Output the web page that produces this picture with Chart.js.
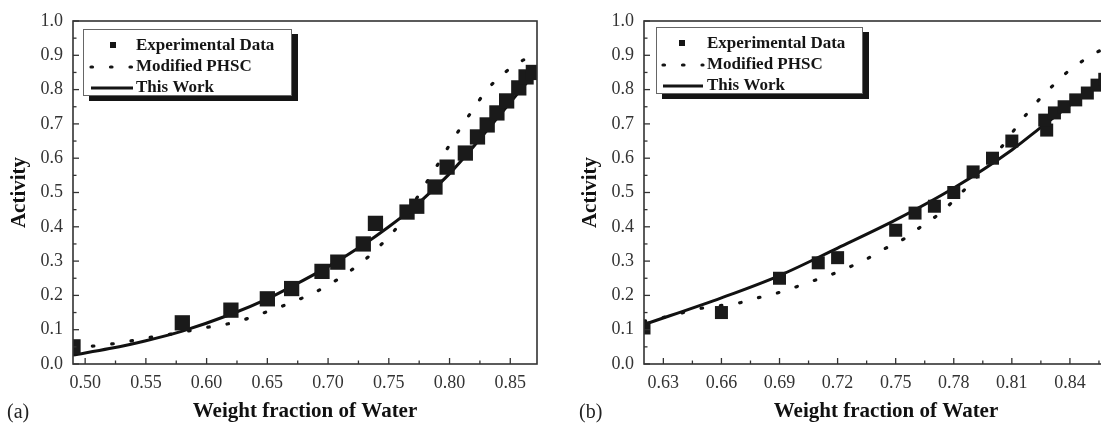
<!DOCTYPE html>
<html><head><meta charset="utf-8">
<script src="https://cdn.jsdelivr.net/npm/chart.js@4.4.1/dist/chart.umd.min.js"></script>
<style>
html,body{margin:0;padding:0;width:1101px;height:424px;overflow:hidden;background:#fff;}
canvas{position:absolute;top:0;}
.panel{position:absolute;top:398px;font:20px 'Liberation Serif',serif;color:#222;line-height:26px;}
</style></head><body>
<canvas id="ca" width="560" height="424" style="left:0;width:560px;height:424px"></canvas>
<canvas id="cb" width="590" height="424" style="left:571px;width:590px;height:424px"></canvas>
<div class="panel" style="left:7px">(a)</div>
<div class="panel" style="left:579px">(b)</div>
<script>
const seriesNames = ['Experimental Data', 'Modified PHSC', 'This Work'];
const xTitle = 'Weight fraction of Water';
const yTitle = 'Activity';

// ---- panel (a) ----
const expXa = [0.49, 0.58, 0.62, 0.65, 0.67, 0.695, 0.708, 0.729, 0.739, 0.765, 0.773, 0.788, 0.798, 0.813, 0.823, 0.831, 0.839, 0.847, 0.857, 0.863, 0.869];
const expYa = [0.05, 0.12, 0.157, 0.19, 0.22, 0.27, 0.297, 0.35, 0.41, 0.443, 0.46, 0.516, 0.574, 0.615, 0.662, 0.697, 0.732, 0.767, 0.805, 0.837, 0.85];
const phscXa = [0.49, 0.506, 0.521, 0.537, 0.551, 0.58, 0.597, 0.613, 0.627, 0.642, 0.658, 0.673, 0.688, 0.703, 0.718, 0.733, 0.748, 0.761, 0.775, 0.79, 0.799, 0.809, 0.819, 0.83, 0.844, 0.859, 0.872];
const phscYa = [0.045, 0.052, 0.058, 0.067, 0.076, 0.093, 0.105, 0.114, 0.125, 0.143, 0.163, 0.184, 0.207, 0.236, 0.271, 0.312, 0.364, 0.417, 0.495, 0.58, 0.633, 0.688, 0.74, 0.796, 0.845, 0.883, 0.90];
const workXa = [0.49, 0.52, 0.55, 0.58, 0.62, 0.65, 0.67, 0.70, 0.73, 0.75, 0.77, 0.79, 0.80, 0.82, 0.84, 0.86, 0.872];
const workYa = [0.026, 0.045, 0.068, 0.096, 0.145, 0.19, 0.226, 0.284, 0.35, 0.40, 0.455, 0.52, 0.555, 0.635, 0.72, 0.805, 0.855];
const xTicksA = [0.50, 0.55, 0.60, 0.65, 0.70, 0.75, 0.80, 0.85];

// ---- panel (b) ----
const expXb = [0.62, 0.66, 0.69, 0.71, 0.72, 0.75, 0.76, 0.77, 0.78, 0.79, 0.80, 0.81, 0.828, 0.827, 0.832, 0.837, 0.843, 0.849, 0.854, 0.858];
const expYb = [0.105, 0.15, 0.25, 0.295, 0.31, 0.39, 0.44, 0.46, 0.50, 0.56, 0.60, 0.65, 0.682, 0.711, 0.732, 0.75, 0.77, 0.79, 0.813, 0.83];
const phscXb = [0.62, 0.631, 0.65, 0.669, 0.678, 0.687, 0.696, 0.706, 0.715, 0.725, 0.735, 0.744, 0.754, 0.763, 0.773, 0.785, 0.795, 0.805, 0.814, 0.822, 0.83, 0.838, 0.848, 0.856, 0.87];
const phscYb = [0.125, 0.137, 0.163, 0.178, 0.192, 0.204, 0.22, 0.24, 0.257, 0.28, 0.306, 0.335, 0.364, 0.40, 0.44, 0.505, 0.565, 0.635, 0.703, 0.758, 0.805, 0.848, 0.889, 0.915, 0.95];
const workXb = [0.62, 0.66, 0.69, 0.72, 0.75, 0.78, 0.81, 0.825, 0.84, 0.855, 0.87];
const workYb = [0.115, 0.193, 0.258, 0.338, 0.42, 0.513, 0.624, 0.69, 0.755, 0.82, 0.885];
const xTicksB = [0.63, 0.66, 0.69, 0.72, 0.75, 0.78, 0.81, 0.84];

const yTicks = [0.0, 0.1, 0.2, 0.3, 0.4, 0.5, 0.6, 0.7, 0.8, 0.9, 1.0];

const FONT = "'Liberation Serif', 'Times New Roman', serif";
const pts = (xs, ys) => xs.map((x, i) => ({x: x, y: ys[i]}));
const minors = (arr) => {
  const out = [];
  const step = arr[1] - arr[0];
  out.push(arr[0] - step / 2);
  for (let i = 0; i < arr.length - 1; i++) out.push((arr[i] + arr[i + 1]) / 2);
  out.push(arr[arr.length - 1] + step / 2);
  return out;
};

const framePlugin = {
  id: 'frame',
  afterDatasetsDraw(chart, args, o) {
    const {ctx, chartArea: a, scales} = chart;
    const xs = scales.x, ys = scales.y;
    ctx.save();
    ctx.strokeStyle = '#333';
    ctx.lineWidth = 1.3;
    const tx = (v, len) => {
      const p = xs.getPixelForValue(v);
      if (p < a.left - 0.5 || p > a.right + 0.5) return;
      ctx.beginPath(); ctx.moveTo(p, a.bottom); ctx.lineTo(p, a.bottom - len); ctx.stroke();
    };
    const ty = (v, len) => {
      const p = ys.getPixelForValue(v);
      if (p < a.top - 0.5 || p > a.bottom + 0.5) return;
      ctx.beginPath(); ctx.moveTo(a.left, p); ctx.lineTo(a.left + len, p); ctx.stroke();
    };
    o.xMajor.forEach(v => tx(v, 6));
    minors(o.xMajor).forEach(v => tx(v, 3.5));
    yTicks.forEach(v => ty(v, 6));
    minors(yTicks).forEach(v => ty(v, 3.5));
    ctx.lineWidth = 1.6;
    ctx.strokeStyle = '#333';
    ctx.strokeRect(a.left, a.top, a.right - a.left, a.bottom - a.top);
    ctx.restore();
  }
};

const boxLegend = {
  id: 'boxLegend',
  afterDraw(chart, args, o) {
    const {ctx, chartArea: a} = chart;
    const x0 = a.left + o.dx, y0 = a.top + o.dy, w = o.w, h = o.h;
    ctx.save();
    ctx.fillStyle = '#151515';
    ctx.fillRect(x0 + 6, y0 + 5, w, h);
    ctx.fillStyle = '#fff';
    ctx.fillRect(x0, y0, w, h);
    ctx.strokeStyle = '#666';
    ctx.lineWidth = 1;
    ctx.strokeRect(x0 + 0.5, y0 + 0.5, w - 1, h - 1);
    ctx.font = 'bold 17px ' + FONT;
    ctx.textBaseline = 'middle';
    ctx.textAlign = 'left';
    chart.data.datasets.forEach((ds, i) => {
      const y = y0 + 16 + i * 21;
      ctx.fillStyle = '#151515';
      ctx.strokeStyle = '#151515';
      if (!ds.showLine) {
        ctx.fillRect(x0 + o.sx - 3, y - 3, 6, 6);
      } else {
        ctx.lineWidth = ds.borderWidth;
        ctx.lineCap = ds.borderCapStyle || 'butt';
        ctx.setLineDash(ds.borderDash || []);
        ctx.beginPath();
        ctx.moveTo(x0 + o.l0, y + 1);
        ctx.lineTo(x0 + o.l1, y + 1);
        ctx.stroke();
        ctx.setLineDash([]);
      }
      ctx.fillText(ds.label, x0 + o.tx, y + 1);
    });
    ctx.restore();
  }
};

function makeChart(id, d, xMin, xMax, xTicks, padRight, ptR, legendOpts) {
  return new Chart(document.getElementById(id), {
    type: 'scatter',
    data: {
      datasets: [
        {label: seriesNames[0], data: pts(d.ex, d.ey), showLine: false, pointStyle: 'rect',
         pointRadius: ptR, pointHoverRadius: ptR, backgroundColor: '#1a1a1a', borderColor: '#1a1a1a', borderWidth: 0, clip: 0, order: 0},
        {label: seriesNames[1], data: pts(d.px, d.py), showLine: true, pointRadius: 0, borderColor: '#111',
         borderWidth: 3.2, borderDash: [1.5, 18], borderCapStyle: 'round', cubicInterpolationMode: 'monotone', clip: 0, order: 1},
        {label: seriesNames[2], data: pts(d.wx, d.wy), showLine: true, pointRadius: 0, borderColor: '#111',
         borderWidth: 3, cubicInterpolationMode: 'monotone', clip: 0, order: 2}
      ]
    },
    options: {
      responsive: false, animation: false, devicePixelRatio: 1,
      events: [],
      layout: {padding: {top: 21, right: padRight, left: 0, bottom: 0}},
      plugins: {
        legend: {display: false}, tooltip: {enabled: false},
        frame: {xMajor: xTicks},
        boxLegend: legendOpts
      },
      scales: {
        x: {
          type: 'linear', min: xMin, max: xMax,
          afterBuildTicks: s => { s.ticks = xTicks.map(v => ({value: v})); },
          afterFit: s => { s.height = 60; },
          grid: {display: false, drawTicks: false}, border: {display: false},
          ticks: {padding: 8, color: '#333', font: {family: FONT, size: 18}, callback: v => Number(v).toFixed(2), maxRotation: 0, autoSkip: false},
          title: {display: true, text: xTitle, color: '#111', padding: {top: 0, bottom: 0}, font: {family: FONT, size: 21, weight: 'bold'}}
        },
        y: {
          type: 'linear', min: 0, max: 1,
          afterBuildTicks: s => { s.ticks = yTicks.map(v => ({value: v})); },
          afterFit: s => { s.width = 73; },
          grid: {display: false, drawTicks: false}, border: {display: false},
          ticks: {padding: 10, color: '#333', font: {family: FONT, size: 18}, callback: v => Number(v).toFixed(1), autoSkip: false},
          title: {display: true, text: yTitle, color: '#111', padding: {top: 7, bottom: 0}, font: {family: FONT, size: 21, weight: 'bold'}}
        }
      }
    },
    plugins: [framePlugin, boxLegend]
  });
}

makeChart('ca', {ex: expXa, ey: expYa, px: phscXa, py: phscYa, wx: workXa, wy: workYa},
  0.49, 0.872, xTicksA, 23, 10.8, {dx: 10, dy: 8, w: 209, h: 67, sx: 30, l0: 8, l1: 50, tx: 53});
makeChart('cb', {ex: expXb, ey: expYb, px: phscXb, py: phscYb, wx: workXb, wy: workYb},
  0.62, 0.87, xTicksB, 33, 9.2, {dx: 12, dy: 6, w: 207, h: 67, sx: 26, l0: 7, l1: 47, tx: 51});
</script>
</body></html>
